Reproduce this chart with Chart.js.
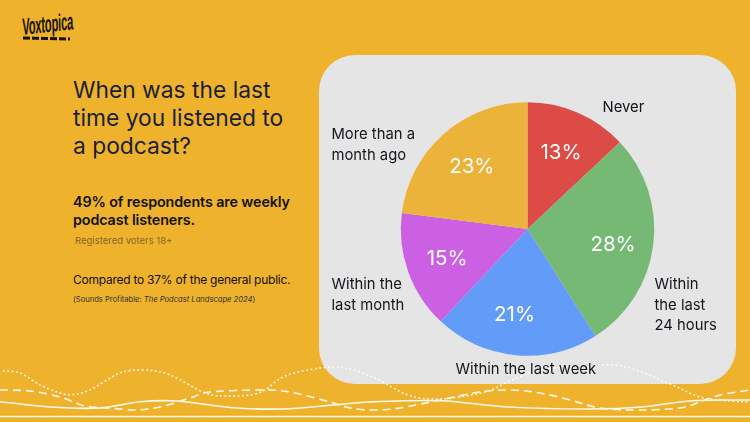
<!DOCTYPE html>
<html>
<head>
<meta charset="utf-8">
<title>When was the last time you listened to a podcast?</title>
<script src="https://cdn.jsdelivr.net/npm/chart.js@4"></script>
<style>
    html, body { margin: 0; padding: 0; }
    body { width: 750px; height: 422px; background: #EEB22C; position: relative; overflow: hidden; font-family: Inter, "Noto Sans", sans-serif; color: #14141c; }
    .txt { position: absolute; white-space: nowrap; }
    #panel { position: absolute; left: 319px; top: 55px; width: 417px; height: 329px; background: #E5E5E5; border-radius: 36px; }
    #waves { position: absolute; left: 0; top: 0; }
    #wrap { position: absolute; left: 319px; top: 55px; width: 417px; height: 329px; }
    #logo { left: 22px; top: 14px; font: 700 17px "Liberation Sans Narrow", "Liberation Sans", sans-serif; color: #17130a; transform: scaleX(.65) scaleY(1.4) rotate(-3deg); transform-origin: left top; letter-spacing: -.2px; }
    #logobar { position: absolute; left: 23px; top: 37px; width: 47px; height: 3px; background: repeating-linear-gradient(90deg, #17130a 0 7px, transparent 7px 9px); transform: rotate(1.5deg); }
</style>
</head>
<body>
<div id="panel"></div>
<svg id="waves" width="750" height="422"></svg>
<div id="wrap"><canvas id="pie" width="417" height="329"></canvas></div>

<div class="txt" id="logo">Voxtopica</div>
<div id="logobar"></div>
<div class="txt" style="left:73px;top:76px;font-size:22.8px;line-height:28px;color:#1a1f38">When was the last<br>time you listened to<br>a podcast?</div>
<div class="txt" style="left:73px;top:193px;font-size:14.3px;line-height:18px;font-weight:600;letter-spacing:-.1px;color:#111">49% of respondents are weekly<br>podcast listeners.</div>
<div class="txt" style="left:75px;top:235px;font-size:9.5px;line-height:12px;color:#86692a">Registered voters 18+</div>
<div class="txt" style="left:73px;top:272px;font-size:12px;line-height:16px;letter-spacing:-.25px;color:#111">Compared to 37% of the general public.</div>
<div class="txt" style="left:73px;top:295px;font-size:7.6px;line-height:10px;color:#333">(Sounds Profitable: <i>The Podcast Landscape 2024</i>)</div>

<script>
// Data
const categories = ["Never", ["Within", "the last", "24 hours"], "Within the last week", ["Within the", "last month"], ["More than a", "month ago"]];
const shares = [13, 28, 21, 15, 23];
const sliceColors = ["#DD4B47", "#75B975", "#629CF8", "#CB60E3", "#EBB33A"];

// where the outside labels start, relative to the pie centre
const labelSpots = [[75, -117], [127, 60], [-72, 145], [-196, 60], [-196, -90]];
// small shifts for the percent labels
const percentNudge = [[0, 1], [2, 5], [-5, 2], [-1, 1], [0, 1]];

// Waves at the bottom
const dottedWave = [[3,371],[20,373],[40,385],[60,393],[72,394.5],[90,390],[120,373],[145,370],[170,375],[205,393],[225,396],[250,395],[265,390],[285,376],[320,368],[345,368],[375,378],[408,395],[440,399],[485,392],[508,382],[540,370],[602,365],[630,368],[668,383],[700,397],[730,401],[750,402]];
const dashedWave = [[0,390],[30,391],[60,397],[85,406],[110,408],[135,410],[160,407],[190,398],[210,392],[260,390],[290,392],[330,402],[350,408],[375,410],[400,408],[440,400],[480,392],[510,390],[540,393],[570,400],[600,408],[640,410],[680,408],[700,402],[720,395],[750,390]];
const solidWave = [[0,401.7],[50,407],[100,408],[140,401.7],[177,401],[233,407.7],[283,409],[333,405],[375,401.7],[442,400.7],[508,407],[592,409],[642,407],[692,400.7],[750,400]];

function smoothPath(pts) {
    var d = "M" + pts[0].join(" ");
    for (var i = 0; i < pts.length - 1; i++) {
        var p0 = pts[Math.max(i - 1, 0)], p1 = pts[i], p2 = pts[i + 1], p3 = pts[Math.min(i + 2, pts.length - 1)];
        d += " C" + (p1[0] + (p2[0] - p0[0]) / 6) + " " + (p1[1] + (p2[1] - p0[1]) / 6) + " " +
            (p2[0] - (p3[0] - p1[0]) / 6) + " " + (p2[1] - (p3[1] - p1[1]) / 6) + " " + p2[0] + " " + p2[1];
    }
    return d;
}

function addWave(d, width, dash, color) {
    var path = document.createElementNS("http://www.w3.org/2000/svg", "path");
    path.setAttribute("d", d);
    path.setAttribute("fill", "none");
    path.setAttribute("stroke", color || "#FFFAF0");
    path.setAttribute("stroke-width", width);
    if (dash) path.setAttribute("stroke-dasharray", dash);
    document.getElementById("waves").appendChild(path);
}
addWave(smoothPath(dottedWave), 1.6, "1.8 2.6");
addWave(smoothPath(dashedWave), 1.6, "8 5");
addWave(smoothPath(solidWave), 1.6);
addWave("M0 414.5 L750 414.5", 0.8, null, "#F3AE0A");
addWave("M0 416.5 L750 416.5", 1.5);

// Percent labels inside the slices, category names outside
const pieLabels = {
    id: "pieLabels",
    afterDatasetsDraw: function (chart) {
        var ctx = chart.ctx;
        var arcs = chart.getDatasetMeta(0).data;
        ctx.save();
        arcs.forEach(function (arc, i) {
            var mid = (arc.startAngle + arc.endAngle) / 2;
            var x = arc.x + Math.cos(mid) * arc.outerRadius * 0.665 + percentNudge[i][0];
            var y = arc.y + Math.sin(mid) * arc.outerRadius * 0.665 + percentNudge[i][1];
            ctx.fillStyle = "#fff";
            ctx.font = "20.5px Inter, sans-serif";
            ctx.textAlign = "center";
            ctx.textBaseline = "middle";
            ctx.fillText(shares[i] + "%", x, y);

            var lines = [].concat(categories[i]);
            ctx.fillStyle = "#14141c";
            ctx.font = "14.8px Inter, sans-serif";
            ctx.textAlign = "left";
            ctx.textBaseline = "alphabetic";
            lines.forEach(function (line, k) {
                ctx.fillText(line, arc.x + labelSpots[i][0], arc.y + labelSpots[i][1] + k * 20.5);
            });
        });
        ctx.restore();
    }
};

var myChart = new Chart(document.getElementById("pie").getContext("2d"), {
    type: "pie",
    data: {
        labels: categories,
        datasets: [{
            data: shares,
            backgroundColor: sliceColors,
            borderWidth: 0
        }]
    },
    options: {
        responsive: false,
        animation: false,
        layout: { padding: { top: 47.3, bottom: 28.3, left: 0, right: 0 } },
        plugins: {
            legend: { display: false },
            tooltip: { enabled: false }
        }
    },
    plugins: [pieLabels]
});
</script>
</body>
</html>
